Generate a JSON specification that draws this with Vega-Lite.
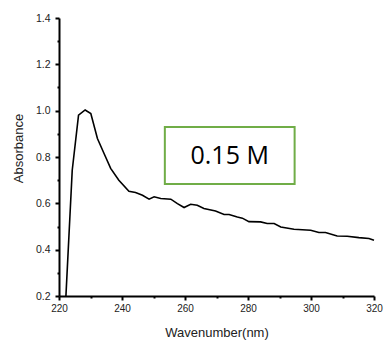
{
  "$schema": "https://vega.github.io/schema/vega-lite/v6.json",
  "width": 315,
  "height": 278,
  "autosize": {"type": "none"},
  "padding": {"left": 59, "top": 18, "right": 10, "bottom": 46},
  "background": "white",
  "config": {"view": {"stroke": null}},
  "datasets": {
    "spectrum": [
      {"wl": 222.2, "abs": 0.2},
      {"wl": 224.2, "abs": 0.743},
      {"wl": 226.2, "abs": 0.981},
      {"wl": 228.3, "abs": 1.003},
      {"wl": 230.1, "abs": 0.988},
      {"wl": 232.2, "abs": 0.88},
      {"wl": 234.3, "abs": 0.815},
      {"wl": 236.4, "abs": 0.751},
      {"wl": 239.0, "abs": 0.7},
      {"wl": 242.2, "abs": 0.652},
      {"wl": 244.3, "abs": 0.647},
      {"wl": 246.5, "abs": 0.635},
      {"wl": 248.6, "abs": 0.618},
      {"wl": 250.2, "abs": 0.628},
      {"wl": 252.3, "abs": 0.621},
      {"wl": 255.5, "abs": 0.618},
      {"wl": 257.6, "abs": 0.599},
      {"wl": 259.7, "abs": 0.582},
      {"wl": 261.8, "abs": 0.596},
      {"wl": 263.9, "abs": 0.592},
      {"wl": 266.0, "abs": 0.578},
      {"wl": 269.7, "abs": 0.567},
      {"wl": 272.4, "abs": 0.552},
      {"wl": 274.0, "abs": 0.552},
      {"wl": 276.6, "abs": 0.541},
      {"wl": 278.2, "abs": 0.536},
      {"wl": 280.3, "abs": 0.521},
      {"wl": 284.0, "abs": 0.52},
      {"wl": 286.1, "abs": 0.513},
      {"wl": 288.3, "abs": 0.513},
      {"wl": 290.4, "abs": 0.498},
      {"wl": 294.6, "abs": 0.488},
      {"wl": 299.9, "abs": 0.484},
      {"wl": 302.5, "abs": 0.474},
      {"wl": 304.6, "abs": 0.474},
      {"wl": 308.3, "abs": 0.459},
      {"wl": 311.5, "abs": 0.458},
      {"wl": 315.2, "abs": 0.452},
      {"wl": 318.4, "abs": 0.448},
      {"wl": 320.0, "abs": 0.441}
    ],
    "box": [
      {"x1": 253.6, "x2": 294.8, "y1": 0.929, "y2": 0.683, "label": "0.15 M", "cx": 274.2, "cy": 0.803}
    ]
  },
  "layer": [
    {
      "data": {"name": "spectrum"},
      "mark": {"type": "line", "opacity": 0},
      "encoding": {
        "x": {
          "field": "wl", "type": "quantitative",
          "scale": {"domain": [220, 320], "nice": false, "zero": false},
          "axis": {
            "orient": "bottom", "title": null, "values": [230, 250, 270, 290, 310],
            "labels": false, "domain": false, "grid": false,
            "tickColor": "black", "tickWidth": 2, "tickSize": 2
          }
        },
        "y": {
          "field": "abs", "type": "quantitative",
          "scale": {"domain": [0.2, 1.4], "nice": false, "zero": false},
          "axis": {
            "orient": "left", "title": null, "values": [0.3, 0.5, 0.7, 0.9, 1.1, 1.3],
            "labels": false, "domain": false, "grid": false,
            "tickColor": "black", "tickWidth": 2, "tickSize": 2
          }
        }
      }
    },
    {
      "data": {"name": "spectrum"},
      "mark": {"type": "line", "color": "black", "strokeWidth": 1.6},
      "encoding": {
        "x": {
          "field": "wl", "type": "quantitative",
          "axis": {
            "orient": "bottom",
            "title": "Wavenumber(nm)", "values": [220, 240, 260, 280, 300, 320],
            "grid": false, "domainColor": "black", "domainWidth": 2,
            "tickColor": "black", "tickWidth": 2, "tickSize": 4,
            "labelFont": "Liberation Sans", "labelFontSize": 10, "labelColor": "#222",
            "labelPadding": 3, "labelFlush": false,
            "titleFont": "Liberation Sans", "titleFontSize": 13, "titleFontWeight": "normal",
            "titleColor": "#222", "titleY": 36, "titleBaseline": "middle"
          }
        },
        "y": {
          "field": "abs", "type": "quantitative",
          "axis": {
            "orient": "left",
            "title": "Absorbance", "values": [0.2, 0.4, 0.6, 0.8, 1.0, 1.2, 1.4],
            "format": ".1f",
            "grid": false, "domainColor": "black", "domainWidth": 2,
            "tickColor": "black", "tickWidth": 2, "tickSize": 4,
            "labelFont": "Liberation Sans", "labelFontSize": 10.5, "labelColor": "#222",
            "labelPadding": 5, "labelFlush": false,
            "titleFont": "Liberation Sans", "titleFontSize": 13, "titleFontWeight": "normal",
            "titleColor": "#222", "titleX": -41, "titleY": 130, "titleBaseline": "middle", "titleAlign": "center"
          }
        }
      }
    },
    {
      "data": {"name": "box"},
      "mark": {"type": "rect", "fill": "white", "stroke": "#70AD47", "strokeWidth": 2},
      "encoding": {
        "x": {"field": "x1", "type": "quantitative", "axis": null},
        "x2": {"field": "x2"},
        "y": {"field": "y1", "type": "quantitative", "axis": null},
        "y2": {"field": "y2"}
      }
    },
    {
      "data": {"name": "box"},
      "mark": {"type": "text", "font": "Open Sans", "fontSize": 25, "color": "black", "align": "center", "baseline": "middle"},
      "encoding": {
        "x": {"field": "cx", "type": "quantitative", "axis": null},
        "y": {"field": "cy", "type": "quantitative", "axis": null},
        "text": {"field": "label"}
      }
    }
  ],
  "resolve": {"axis": {"x": "independent", "y": "independent"}}
}
